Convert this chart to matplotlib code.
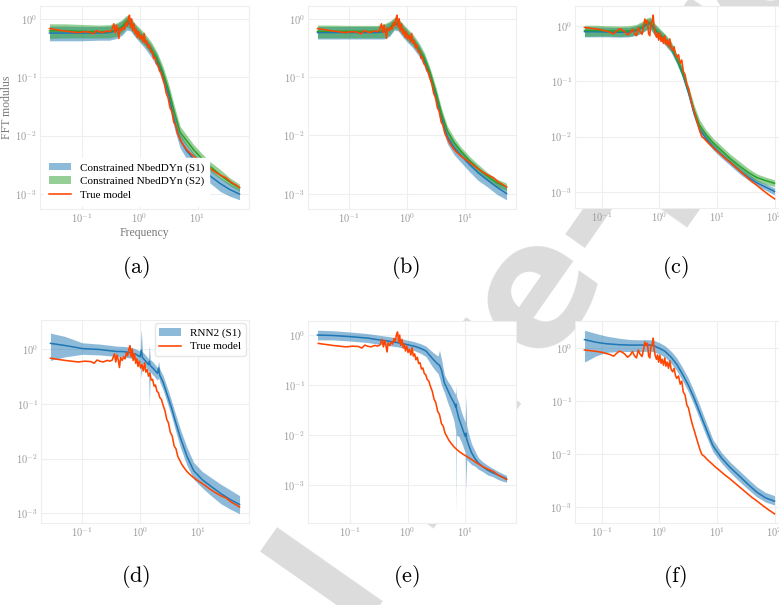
import matplotlib
matplotlib.use("Agg")
import matplotlib.pyplot as plt
from matplotlib.ticker import NullFormatter, LogLocator, FuncFormatter
import math

# ---------------------------------------------------------------- data
# Reference ("true model") spectrum, system 1 (panels a, b, d, e)
freq_true_1 = [0.028, 0.037, 0.05, 0.065, 0.085, 0.11, 0.14, 0.16, 0.18, 0.2,
               0.23, 0.27, 0.3, 0.33, 0.36, 0.38, 0.4, 0.42, 0.44, 0.46,
               0.49, 0.52, 0.55, 0.58, 0.61, 0.64, 0.67, 0.7, 0.73, 0.76,
               0.8, 0.84, 0.88, 0.92, 0.97, 1.02, 1.08, 1.14, 1.2, 1.26,
               1.33, 1.4, 1.48, 1.56, 1.65, 1.75, 1.85, 1.96, 2.08, 2.2,
               2.35, 2.5, 2.7, 2.9, 3.1, 3.35, 3.6, 3.9, 4.2, 4.5,
               4.9, 5.3, 5.8, 6.4, 7.2, 8.2, 9.5, 11, 13, 16,
               20, 25, 31, 38, 45, 53]
fft_true_1 = [0.68, 0.65, 0.62, 0.60, 0.58, 0.60, 0.59, 0.55, 0.63, 0.60,
              0.58, 0.62, 0.60, 0.63, 0.82, 0.58, 0.78, 0.62, 0.46, 0.70,
              0.62, 0.72, 0.66, 0.85, 0.75, 1.0, 1.15, 0.72, 1.0, 0.62,
              0.82, 0.55, 0.66, 0.48, 0.60, 0.45, 0.52, 0.40, 0.56, 0.38,
              0.42, 0.32, 0.36, 0.27, 0.28, 0.21, 0.22, 0.17, 0.16, 0.13,
              0.12, 0.095, 0.075, 0.052, 0.045, 0.030, 0.026, 0.017, 0.015, 0.011,
              0.0092, 0.0078, 0.0068, 0.0059, 0.0052, 0.0046, 0.0041, 0.0037, 0.0033, 0.0028,
              0.0024, 0.0021, 0.0019, 0.0016, 0.00145, 0.0013]

# Reference spectrum, system 2 (panels c, f)
freq_true_2 = [0.05, 0.065, 0.083, 0.1, 0.115, 0.14, 0.16, 0.18, 0.2, 0.22,
               0.25, 0.28, 0.31, 0.34, 0.37, 0.4, 0.43, 0.46, 0.5, 0.53,
               0.56, 0.59, 0.62, 0.65, 0.68, 0.71, 0.75, 0.78, 0.81, 0.85,
               0.89, 0.93, 0.97, 1.02, 1.07, 1.12, 1.18, 1.24, 1.3, 1.37,
               1.44, 1.52, 1.6, 1.7, 1.8, 1.9, 2.0, 2.15, 2.3, 2.45,
               2.6, 2.8, 3.0, 3.2, 3.45, 3.7, 4.0, 4.3, 4.7, 5.1,
               5.5, 6.0, 6.6, 7.3, 8.2, 9.3, 10.5, 12, 14, 17,
               21, 26, 32, 40, 50, 62, 78, 100]
fft_true_2 = [0.93, 0.90, 0.87, 0.84, 0.81, 0.76, 0.71, 0.80, 0.88, 0.86,
              0.78, 0.68, 0.74, 0.87, 0.72, 0.66, 0.93, 0.78, 0.70, 0.95,
              1.32, 1.12, 1.25, 0.72, 0.66, 1.05, 1.20, 1.55, 0.95, 0.72,
              0.62, 0.75, 0.55, 0.74, 0.52, 0.62, 0.48, 0.66, 0.46, 0.55,
              0.42, 0.58, 0.40, 0.36, 0.42, 0.31, 0.27, 0.30, 0.21, 0.24,
              0.15, 0.13, 0.085, 0.075, 0.052, 0.038, 0.029, 0.022, 0.016, 0.012,
              0.0098, 0.0092, 0.0082, 0.0074, 0.0066, 0.0058, 0.0052, 0.0046, 0.0040, 0.0034,
              0.0028, 0.0023, 0.0019, 0.00155, 0.0013, 0.00108, 0.0009, 0.00075]

# Frequency grid of the learned models, system 1
freq_model_1 = [0.028, 0.05, 0.1, 0.2, 0.3, 0.4, 0.5, 0.6, 0.7, 0.85,
                1.0, 1.25, 1.6, 2.0, 2.5, 3.2, 4.0, 5.0, 6.5, 8.5,
                12, 17, 25, 36, 53]

# (a) constrained NbedDyn, settings S1 / S2
a_s1_mean = [.57, .57, .57, .57, .58, .62, .70, .85, .80, .62, .52, .40, .28, .19, .11, .048, .018, .0085, .0055, .004, .0028, .002, .0015, .0012, .001]
a_s1_low = [.42, .42, .42, .43, .43, .46, .52, .64, .62, .48, .40, .31, .22, .15, .085, .036, .013, .0062, .0040, .0030, .0021, .0015, .0011, .00092, .0008]
a_s1_high = [.75, .75, .74, .74, .75, .80, .92, 1.08, 1.0, .78, .64, .50, .36, .25, .14, .062, .024, .0108, .0072, .0051, .0036, .0026, .0019, .0015, .00122]
a_s2_mean = [.62, .62, .61, .60, .60, .65, .74, .92, .85, .65, .55, .43, .31, .21, .125, .058, .025, .0115, .0082, .0058, .004, .0029, .0021, .0016, .00128]
a_s2_low = [.46, .47, .47, .47, .47, .50, .57, .72, .66, .50, .43, .34, .25, .17, .10, .046, .019, .0092, .0066, .0047, .0033, .0024, .0018, .0014, .00112]
a_s2_high = [.82, .82, .80, .78, .79, .85, .97, 1.15, 1.05, .82, .70, .55, .40, .27, .16, .075, .032, .0145, .0102, .0071, .0049, .0035, .0026, .0019, .00148]

# (b)
b_s1_mean = [.58, .58, .58, .58, .58, .60, .66, .82, .80, .62, .52, .41, .29, .19, .105, .045, .019, .0095, .0062, .0046, .0032, .0023, .0017, .0013, .00101]
b_s1_low = [.45, .45, .45, .45, .45, .45, .50, .64, .62, .48, .40, .32, .23, .15, .083, .035, .0145, .0072, .0047, .0035, .0024, .0017, .0013, .00098, .00079]
b_s1_high = [.74, .74, .74, .74, .74, .78, .86, 1.0, .98, .78, .65, .51, .36, .24, .13, .056, .024, .012, .0078, .0057, .0040, .0029, .0021, .0016, .00125]
b_s2_mean = [.61, .61, .61, .61, .61, .63, .70, .86, .84, .66, .55, .44, .31, .21, .12, .053, .023, .012, .0076, .0054, .0037, .0027, .0020, .00155, .00131]
b_s2_low = [.47, .47, .47, .47, .47, .47, .53, .68, .66, .52, .43, .35, .25, .17, .097, .043, .0185, .0096, .0062, .0045, .0031, .0023, .0017, .00133, .00113]
b_s2_high = [.78, .78, .77, .77, .77, .82, .91, 1.05, 1.02, .82, .69, .55, .39, .26, .145, .065, .028, .0145, .0092, .0064, .0044, .0032, .0023, .0018, .00152]

# Frequency grid of the learned models, system 2
freq_model_2 = [0.05, 0.08, 0.12, 0.2, 0.3, 0.4, 0.5, 0.6, 0.7, 0.8,
                1.0, 1.25, 1.6, 2.0, 2.5, 3.2, 4.0, 5.0, 6.5, 8.5,
                12, 17, 25, 36, 50, 70, 100]

# (c)
c_s1_mean = [0.78, 0.78, 0.77, 0.76, 0.77, 0.82, 0.92, 1.05, 1.1, 0.88, 0.7, 0.56, 0.40, 0.25, 0.14, 0.062, 0.026, 0.0135, 0.0092, 0.0066, 0.0047, 0.0034, 0.0024, 0.0018, 0.00145, 0.00122, 0.00102]
c_s1_low = [0.63, 0.63, 0.63, 0.62, 0.63, 0.67, 0.74, 0.84, 0.86, 0.70, 0.56, 0.45, 0.33, 0.21, 0.12, 0.052, 0.022, 0.0115, 0.0080, 0.0058, 0.0041, 0.0030, 0.0021, 0.0016, 0.00128, 0.00107, 0.00088]
c_s1_high = [0.95, 0.95, 0.94, 0.93, 0.94, 1.0, 1.12, 1.28, 1.35, 1.08, 0.86, 0.69, 0.49, 0.30, 0.17, 0.074, 0.031, 0.016, 0.0106, 0.0076, 0.0054, 0.0039, 0.0028, 0.0021, 0.00165, 0.0014, 0.00118]
c_s2_mean = [0.82, 0.82, 0.81, 0.80, 0.81, 0.85, 0.95, 1.10, 1.15, 0.92, 0.72, 0.58, 0.42, 0.26, 0.15, 0.068, 0.03, 0.016, 0.0108, 0.0078, 0.0056, 0.0040, 0.0029, 0.0022, 0.0018, 0.0016, 0.00143]
c_s2_low = [0.64, 0.65, 0.65, 0.64, 0.65, 0.68, 0.76, 0.86, 0.88, 0.72, 0.57, 0.47, 0.34, 0.21, 0.12, 0.055, 0.024, 0.013, 0.0090, 0.0066, 0.0047, 0.0034, 0.0025, 0.0019, 0.00155, 0.00137, 0.00125]
c_s2_high = [1.02, 1.02, 1.0, 0.99, 1.0, 1.06, 1.2, 1.38, 1.45, 1.15, 0.9, 0.71, 0.52, 0.31, 0.18, 0.082, 0.037, 0.02, 0.013, 0.0094, 0.0067, 0.0048, 0.0035, 0.0026, 0.0021, 0.00185, 0.00165]

# (f) RNN on system 2
f_rnn_mean = [1.46, 1.3, 1.22, 1.17, 1.15, 1.15, 1.15, 1.16, 1.15, 1.12, 1.0, 0.88, 0.68, 0.5, 0.33, 0.2, 0.115, 0.062, 0.03, 0.0145, 0.0085, 0.0056, 0.0038, 0.0026, 0.0019, 0.0015, 0.0013]
f_rnn_low = [0.55, 0.72, 0.84, 0.87, 0.87, 0.87, 0.87, 0.88, 0.88, 0.86, 0.78, 0.68, 0.52, 0.38, 0.25, 0.15, 0.085, 0.046, 0.022, 0.0112, 0.0068, 0.0045, 0.0030, 0.0021, 0.00155, 0.00125, 0.0011]
f_rnn_high = [2.2, 1.9, 1.7, 1.55, 1.47, 1.45, 1.45, 1.46, 1.45, 1.42, 1.28, 1.12, 0.88, 0.66, 0.44, 0.27, 0.155, 0.085, 0.04, 0.019, 0.0108, 0.0071, 0.0048, 0.0033, 0.0024, 0.0019, 0.00165]

# (d) RNN on system 1
freq_rnn_d = [0.028, 0.05, 0.1, 0.2, 0.3, 0.4, 0.5, 0.6, 0.7, 0.85,
              1.0, 1.05, 1.1, 1.25, 1.4, 1.45, 1.5, 1.7, 2.0, 2.1,
              2.2, 2.5, 3.0, 3.5, 4.0, 5.0, 6.5, 8.5, 12, 17,
              25, 36, 53]
d_rnn_mean = [1.27, 1.16, 1.02, 0.98, 0.93, 0.9, 0.9, 0.88, 0.85, 0.8,
              0.72, 0.95, 0.7, 0.6, 0.52, 0.6, 0.5, 0.44, 0.36, 0.45,
              0.33, 0.25, 0.14, 0.085, 0.052, 0.024, 0.011, 0.006, 0.0041, 0.0031,
              0.0023, 0.0018, 0.00145]
d_rnn_low = [0.62, 0.72, 0.8, 0.78, 0.75, 0.72, 0.72, 0.7, 0.68, 0.63,
             0.56, 0.3, 0.55, 0.47, 0.4, 0.09, 0.38, 0.33, 0.27, 0.3,
             0.25, 0.18, 0.1, 0.06, 0.036, 0.016, 0.0075, 0.0042, 0.0029, 0.0021,
             0.0015, 0.0012, 0.00098]
d_rnn_high = [1.95, 1.7, 1.3, 1.23, 1.17, 1.13, 1.12, 1.1, 1.07, 1.0,
              0.92, 2.3, 0.9, 0.77, 0.67, 1.2, 0.65, 0.57, 0.46, 0.6,
              0.43, 0.33, 0.19, 0.115, 0.072, 0.034, 0.016, 0.0085, 0.0058, 0.0045,
              0.0034, 0.0027, 0.0021]

# (e) RNN on system 1, second setting
freq_rnn_e = [0.027, 0.05, 0.1, 0.2, 0.3, 0.45, 0.6, 0.8, 1.0, 1.3,
              1.7, 2.1, 2.6, 3.0, 3.4, 3.6, 3.9, 4.4, 5.0, 5.6,
              6.4, 6.9, 7.0, 7.1, 7.8, 8.6, 9.5, 10.1, 10.4, 10.7,
              11.5, 13, 15, 17, 20, 25, 30, 38, 46, 53]
e_rnn_mean = [1.0, 0.98, 0.93, 0.87, 0.81, 0.76, 0.72, 0.68, 0.64, 0.6,
              0.54, 0.48, 0.36, 0.3, 0.26, 0.25, 0.2, 0.11, 0.08, 0.06,
              0.045, 0.036, 0.042, 0.034, 0.022, 0.016, 0.0115, 0.0095, 0.011, 0.0085,
              0.0065, 0.0045, 0.0034, 0.0028, 0.0024, 0.002, 0.0018, 0.0016, 0.00145, 0.00135]
e_rnn_low = [0.8, 0.8, 0.76, 0.71, 0.66, 0.62, 0.59, 0.56, 0.53, 0.49,
             0.43, 0.37, 0.25, 0.2, 0.17, 0.14, 0.1, 0.07, 0.045, 0.032,
             0.02, 0.012, 0.00027, 0.01, 0.0095, 0.0075, 0.0055, 0.0045, 0.0008, 0.0033,
             0.003, 0.0026, 0.0024, 0.0021, 0.0019, 0.0016, 0.0015, 0.0013, 0.0012, 0.00115]
e_rnn_high = [1.25, 1.22, 1.15, 1.07, 1.0, 0.94, 0.89, 0.84, 0.79, 0.74,
              0.67, 0.6, 0.48, 0.42, 0.38, 0.5, 0.33, 0.16, 0.12, 0.1,
              0.075, 0.065, 0.1, 0.06, 0.045, 0.03, 0.022, 0.018, 0.06, 0.016,
              0.011, 0.0068, 0.0048, 0.0036, 0.003, 0.0025, 0.0022, 0.0019, 0.0017, 0.00158]

captions = ["(a)", "(b)", "(c)", "(d)", "(e)", "(f)"]

# ---------------------------------------------------------------- style
plt.rcParams.update({
    "font.family": "serif",
    "font.serif": ["Liberation Serif", "DejaVu Serif"],
    "mathtext.fontset": "cm",
})
BLUE = "#1f77b4"
GREEN = "#2ca02c"
RED = "#ff4500"

W, H = 779, 605
fig = plt.figure(figsize=(W / 100, H / 100), dpi=100)

# big grey watermark behind every panel
fig.text(8 / W, 1 - 1151 / H, "Journal Pre-proof", fontsize=122,
         fontweight="bold", family="DejaVu Sans", color="#dcdcdc",
         rotation=55, rotation_mode="anchor", ha="left", va="baseline",
         zorder=-10)


def add_ax(left, top, width, height):
    return fig.add_axes([left / W, 1 - (top + height) / H, width / W, height / H])


def decade_label(value, _pos):
    return r"$10^{%d}$" % round(math.log10(value))


def style(ax):
    ax.set_xscale("log")
    ax.set_yscale("log")
    ax.set_facecolor("white")
    ax.grid(True, which="major", color="#efefef", lw=0.8)
    ax.grid(False, which="minor")
    ax.set_axisbelow(True)
    for s in ax.spines.values():
        s.set_color("#eeeeee")
        s.set_linewidth(0.8)
    for axis in (ax.xaxis, ax.yaxis):
        axis.set_major_locator(LogLocator(base=10, numticks=10))
        axis.set_major_formatter(FuncFormatter(decade_label))
        axis.set_minor_formatter(NullFormatter())
    ax.tick_params(which="both", length=0, labelsize=7.5, labelcolor="#9a9a9a", pad=2)


def band(ax, f, mean, low, high, color, label=None):
    ax.fill_between(f, low, high, color=color, alpha=0.5, lw=0, label=label)
    ax.plot(f, mean, color=color, lw=1.1)


def truth(ax, f, a):
    ax.plot(f, a, color=RED, lw=1.15, label="True model")


ax_a = add_ax(40, 6, 209, 203)
ax_b = add_ax(308, 6, 208, 203)
ax_c = add_ax(575, 6, 209, 202)
ax_d = add_ax(41, 320, 208, 203)
ax_e = add_ax(308, 321, 208, 202)
ax_f = add_ax(575, 321, 209, 202)

for ax in (ax_a, ax_b, ax_c, ax_d, ax_e, ax_f):
    style(ax)

# top row: constrained NbedDyn
band(ax_a, freq_model_1, a_s1_mean, a_s1_low, a_s1_high, BLUE, "Constrained NbedDYn (S1)")
band(ax_a, freq_model_1, a_s2_mean, a_s2_low, a_s2_high, GREEN, "Constrained NbedDYn (S2)")
truth(ax_a, freq_true_1, fft_true_1)

band(ax_b, freq_model_1, b_s1_mean, b_s1_low, b_s1_high, BLUE)
band(ax_b, freq_model_1, b_s2_mean, b_s2_low, b_s2_high, GREEN)
truth(ax_b, freq_true_1, fft_true_1)

band(ax_c, freq_model_2, c_s1_mean, c_s1_low, c_s1_high, BLUE)
band(ax_c, freq_model_2, c_s2_mean, c_s2_low, c_s2_high, GREEN)
truth(ax_c, freq_true_2, fft_true_2)

# bottom row: RNN
band(ax_d, freq_rnn_d, d_rnn_mean, d_rnn_low, d_rnn_high, BLUE, "RNN2 (S1)")
truth(ax_d, freq_true_1, fft_true_1)

band(ax_e, freq_rnn_e, e_rnn_mean, e_rnn_low, e_rnn_high, BLUE)
truth(ax_e, freq_true_1, fft_true_1)

band(ax_f, freq_model_2, f_rnn_mean, f_rnn_low, f_rnn_high, BLUE)
truth(ax_f, freq_true_2, fft_true_2)

ax_a.set_ylabel("FFT modulus", fontsize=8.5, color="#7a7a7a", labelpad=2)
ax_a.set_xlabel("Frequency", fontsize=8.5, color="#7a7a7a", labelpad=1)

ax_a.legend(loc="lower left", fontsize=8, frameon=True, facecolor="white",
            edgecolor="white", framealpha=1, handlelength=2.0,
            borderaxespad=0.4, labelspacing=0.35)
ax_d.legend(loc="upper right", fontsize=8, frameon=True, facecolor="white",
            edgecolor="#e6e6e6", framealpha=1, handlelength=2.0,
            borderaxespad=0.3, labelspacing=0.35)

cap_x = [136, 406, 675]
cap_y = [268, 577]
for i, cap in enumerate(captions):
    fig.text(cap_x[i % 3] / W, 1 - cap_y[i // 3] / H, r"$\mathrm{%s}$" % cap,
             fontsize=16, ha="center", va="center", color="black")

fig.savefig("out.png", dpi=100)
